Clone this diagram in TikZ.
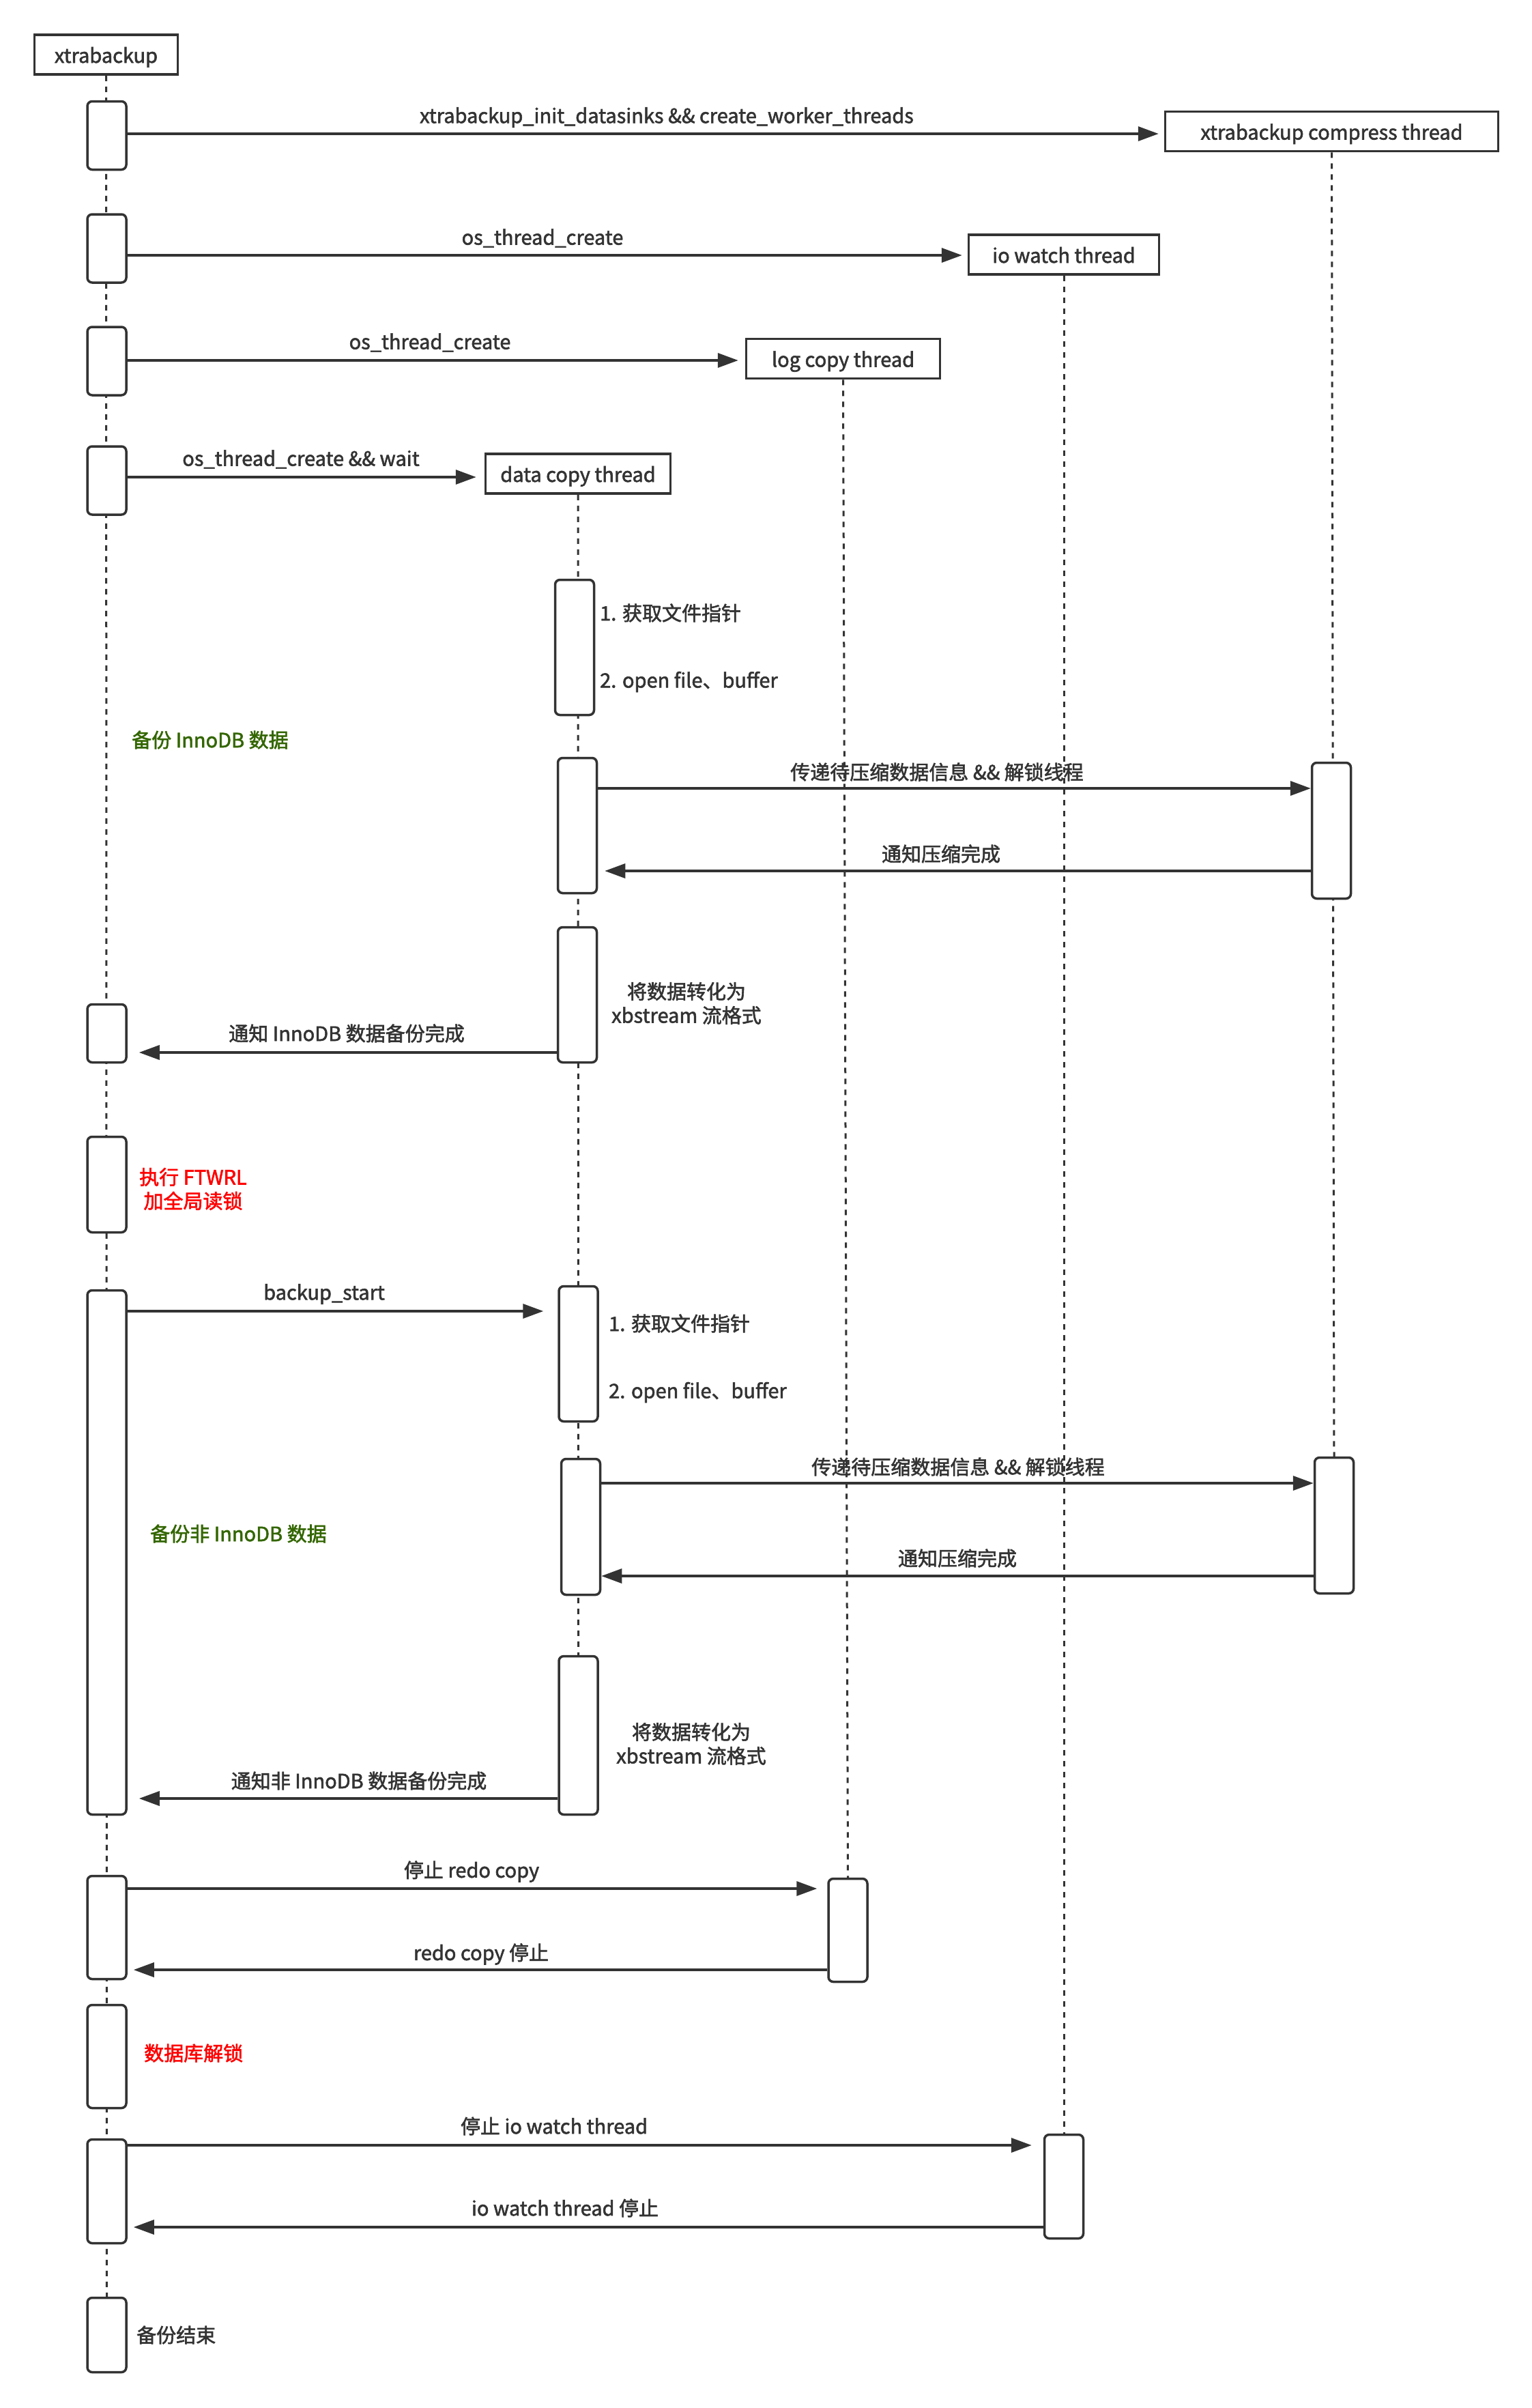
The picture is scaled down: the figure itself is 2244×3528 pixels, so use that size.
\documentclass[tikz,border=0pt]{standalone}
\usepackage{fontspec}
\setmainfont{Noto Sans CJK SC}[FakeBold=2]
\usetikzlibrary{arrows.meta,backgrounds}
\definecolor{ink}{HTML}{333333}
\definecolor{grn}{HTML}{336600}
\definecolor{rd}{HTML}{FF0000}
\begin{document}
\begin{tikzpicture}[x=1pt,y=-1pt,
  every node/.style={font=\fontsize{29}{35}\selectfont, text=ink},
  head/.style={draw=ink, line width=3.5pt, fill=white, minimum height=58pt, inner sep=0pt, text height=24pt, text depth=0pt},
  act/.style={draw=ink, line width=3.5pt, fill=white, rounded corners=7pt, minimum width=57pt, inner sep=0pt},
  life/.style={draw=ink, line width=3pt, dash pattern=on 8pt off 8pt},
  msg/.style={draw=ink, line width=3.5pt, -{Triangle[length=30pt,width=21pt]}},
  lbl/.style={inner sep=0pt, align=center},
  note/.style={inner sep=0pt, anchor=west},
]
\useasboundingbox (0,0) rectangle (2244,3528);

% participants
\node[head, minimum width=210pt] (xb) at (155.5,80) {xtrabackup};
\node[head, minimum width=488pt] (comp) at (1951.5,192.5) {xtrabackup compress thread};
\node[head, minimum width=279pt] (io) at (1559,373) {io watch thread};
\node[head, minimum width=284pt] (log) at (1235.5,525.5) {log copy thread};
\node[head, minimum width=271pt] (data) at (847,694) {data copy thread};

% activations of xtrabackup
\node[act, minimum height=100pt] (a1) at (156.5,198.5) {};
\node[act, minimum height=100pt] (a2) at (156.5,364) {};
\node[act, minimum height=100pt] (a3) at (156.5,529) {};
\node[act, minimum height=100pt] (a4) at (156.5,704) {};
\node[act, minimum height=85pt] (a5) at (156.5,1514) {};
\node[act, minimum height=140pt] (a6) at (156.5,1735.5) {};
\node[act, minimum height=768pt] (a7) at (156.5,2274.5) {};
\node[act, minimum height=151pt] (a8) at (156.5,2824) {};
\node[act, minimum height=151pt] (a9) at (156.5,3013) {};
\node[act, minimum height=152pt] (a10) at (156.5,3210.5) {};
\node[act, minimum height=109pt] (a11) at (156.5,3421) {};

% activations of data copy thread
\node[act, minimum height=198pt] (dA) at (842,948.5) {};
\node[act, minimum height=198pt] (dB) at (846,1209.5) {};
\node[act, minimum height=198pt] (dC) at (846,1457.5) {};
\node[act, minimum height=198pt] (dD) at (847.5,1983.5) {};
\node[act, minimum height=199pt] (dE) at (851,2237) {};
\node[act, minimum height=232pt] (dF) at (847.5,2542.5) {};

% activations of compress / log / io threads
\node[act, minimum height=199pt] (cA) at (1951,1217) {};
\node[act, minimum height=199pt] (cB) at (1955,2235) {};
\node[act, minimum height=151pt] (lA) at (1242.5,2828) {};
\node[act, minimum height=152pt] (iA) at (1559,3203.5) {};

% lifelines
\begin{scope}[on background layer]
\fill[white] (0,0) rectangle (2244,3528);
\draw[life] (xb.south) -- (a11.north);
\draw[life] (comp.south) -- (cB.north);
\draw[life] (io.south) -- (iA.north);
\draw[life] (log.south) -- (lA.north);
\draw[life] (data.south) -- (dF.north);
\end{scope}

% messages
\draw[msg, shorten >=8pt] (a1.east |- 0,196) -- (comp.west |- 0,196);
\draw[msg, shorten >=8pt] (a2.east |- 0,374) -- (io.west |- 0,374);
\draw[msg, shorten >=10pt] (a3.east |- 0,528) -- (log.west |- 0,528);
\draw[msg, shorten >=12pt] (a4.east |- 0,699) -- (data.west |- 0,699);
\draw[msg] (dB.east |- 0,1155) -- (cA.west |- 0,1155);
\draw[msg, shorten >=10pt] (cA.west |- 0,1276) -- (dB.east |- 0,1276);
\draw[msg, shorten >=17pt] (dC.west |- 0,1542) -- (a5.east |- 0,1542);
\draw[msg, shorten >=21pt] (a7.east |- 0,1921) -- (dD.west |- 0,1921);
\draw[msg] (dE.east |- 0,2173) -- (cB.west |- 0,2173);
\draw[msg] (cB.west |- 0,2309) -- (dE.east |- 0,2309);
\draw[msg, shorten >=17pt] (dF.west |- 0,2635) -- (a7.east |- 0,2635);
\draw[msg, shorten >=15pt] (a8.east |- 0,2767) -- (lA.west |- 0,2767);
\draw[msg, shorten >=9pt] (lA.west |- 0,2886) -- (a8.east |- 0,2886);
\draw[msg, shorten >=17pt] (a10.east |- 0,3143) -- (iA.west |- 0,3143);
\draw[msg, shorten >=9pt] (iA.west |- 0,3263) -- (a10.east |- 0,3263);

% message labels
\node[lbl] (t1) at (977,172) {xtrabackup\_init\_datasinks \&\& create\_worker\_threads};
\node[lbl] (t2) at (795,349) {os\_thread\_create};
\node[lbl] (t3) at (630,502) {os\_thread\_create};
\node[lbl] (t4) at (441,673) {os\_thread\_create \&\& wait};
\node[lbl] (t5) at (1373,1131) {传递待压缩数据信息 \&\& 解锁线程};
\node[lbl] (t6) at (1379,1251) {通知压缩完成};
\node[lbl] (t7) at (508,1514) {通知 InnoDB 数据备份完成};
\node[lbl] (t8) at (475,1896) {backup\_start};
\node[lbl] (t9) at (1404,2149) {传递待压缩数据信息 \&\& 解锁线程};
\node[lbl] (t10) at (1403,2283) {通知压缩完成};
\node[lbl] (t11) at (526,2609) {通知非 InnoDB 数据备份完成};
\node[lbl] (t12) at (691,2742) {停止 redo copy};
\node[lbl] (t13) at (705,2863) {redo copy 停止};
\node[lbl] (t14) at (812,3115) {停止 io watch thread};
\node[lbl] (t15) at (828,3235) {io watch thread 停止};

% notes
\node[note] (n1) at (879,898) {1. 获取文件指针};
\node[note] (n2) at (879,999) {2. open file、buffer};
\node[lbl] (n3) at (1006,1470) {将数据转化为\\xbstream 流格式};
\node[note, text=grn] (n4) at (193,1084) {备份 InnoDB 数据};
\node[lbl, text=rd] (n5) at (283,1742) {执行 FTWRL\\加全局读锁};
\node[note] (n6) at (892,1939) {1. 获取文件指针};
\node[note] (n7) at (892,2040) {2. open file、buffer};
\node[note, text=grn] (n8) at (220,2247) {备份非 InnoDB 数据};
\node[lbl] (n9) at (1013,2555) {将数据转化为\\xbstream 流格式};
\node[note, text=rd] (n10) at (211,3008) {数据库解锁};
\node[note] (n11) at (200,3421) {备份结束};
\end{tikzpicture}
\end{document}
